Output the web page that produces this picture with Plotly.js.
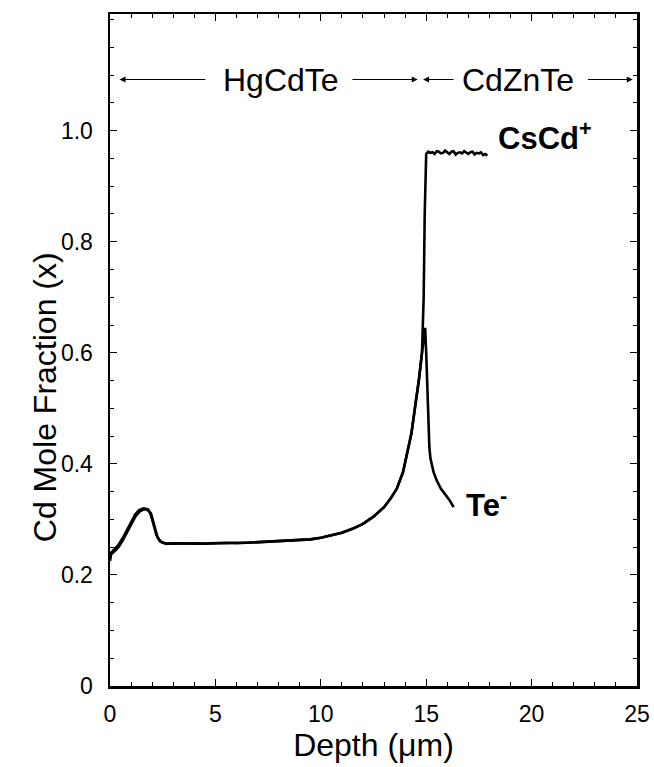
<!DOCTYPE html>
<html>
<head>
<meta charset="utf-8">
<script src="https://cdn.plot.ly/plotly-3.0.1.min.js"></script>
<style>html,body{margin:0;padding:0;background:#fff;}#chart{width:654px;height:767px;}</style>
</head>
<body>
<div id="chart"></div>
<script>
// CsCd+ profile (depth in µm, Cd mole fraction)
const csDepth = [0, 0.05, 0.2, 0.4, 0.6, 0.8, 1.0, 1.2, 1.4, 1.6, 1.75, 1.9, 2.0, 2.1, 2.2, 2.35, 2.5, 2.7, 3.0, 3.5, 4, 4.5, 5, 5.5, 6, 6.5, 7, 7.5, 8, 8.5, 9, 9.5, 10, 10.5, 11, 11.5, 12, 12.5, 13, 13.3, 13.6, 13.9, 14.1, 14.3, 14.5, 14.65, 14.8, 14.88, 14.93, 14.97, 15.0,
  15.1, 15.2, 15.3, 15.4, 15.5, 15.6, 15.7, 15.8, 15.9, 16.0, 16.1, 16.2, 16.3, 16.4, 16.5, 16.6, 16.7, 16.8, 16.9, 17.0, 17.1, 17.2, 17.3, 17.4, 17.5, 17.6, 17.7, 17.8, 17.9];
const csValue = [0.225, 0.237, 0.242, 0.250, 0.262, 0.277, 0.292, 0.305, 0.314, 0.318, 0.318, 0.312, 0.300, 0.285, 0.272, 0.262, 0.258, 0.256, 0.257, 0.256, 0.257, 0.256, 0.257, 0.257, 0.258, 0.258, 0.259, 0.259, 0.260, 0.261, 0.262, 0.264, 0.267, 0.271, 0.276, 0.283, 0.292, 0.305, 0.322, 0.337, 0.355, 0.385, 0.420, 0.455, 0.510, 0.550, 0.600, 0.700, 0.850, 0.930, 0.958,
  0.962, 0.960, 0.961, 0.958, 0.963, 0.962, 0.959, 0.960, 0.964, 0.961, 0.958, 0.962, 0.963, 0.957, 0.960, 0.961, 0.959, 0.963, 0.960, 0.958, 0.961, 0.962, 0.957, 0.960, 0.959, 0.961, 0.956, 0.958, 0.955];

// Te- profile
const teDepth = [0, 0.05, 0.2, 0.4, 0.6, 0.8, 1.0, 1.2, 1.4, 1.6, 1.8, 1.95, 2.05, 2.15, 2.25, 2.4, 2.6, 3.0, 3.5, 4, 4.5, 5, 5.5, 6, 6.5, 7, 7.5, 8, 8.5, 9, 9.5, 10, 10.5, 11, 11.5, 12, 12.5, 13, 13.3, 13.6, 13.9, 14.1, 14.3, 14.5, 14.65, 14.8, 14.9, 14.95, 15.0, 15.08, 15.15, 15.2, 15.35, 15.5, 15.7, 15.9, 16.1, 16.3];
const teValue = [0.230, 0.240, 0.246, 0.254, 0.266, 0.281, 0.296, 0.309, 0.317, 0.320, 0.318, 0.310, 0.296, 0.280, 0.268, 0.260, 0.257, 0.256, 0.257, 0.256, 0.257, 0.257, 0.258, 0.257, 0.258, 0.259, 0.259, 0.260, 0.261, 0.262, 0.264, 0.267, 0.271, 0.276, 0.283, 0.292, 0.305, 0.322, 0.337, 0.355, 0.385, 0.420, 0.455, 0.510, 0.550, 0.600, 0.630, 0.645, 0.600, 0.500, 0.430, 0.410, 0.385, 0.370, 0.355, 0.345, 0.335, 0.322];

const xTicks = [0, 5, 10, 15, 20, 25];
const yTickVals = [0, 0.2, 0.4, 0.6, 0.8, 1.0];
const yTickText = ['0', '0.2', '0.4', '0.6', '0.8', '1.0'];

const lineStyle = {color: '#000', width: 2.6};
const traces = [
  {x: csDepth, y: csValue, mode: 'lines', line: lineStyle, name: 'CsCd+', hoverinfo: 'skip'},
  {x: teDepth, y: teValue, mode: 'lines', line: lineStyle, name: 'Te-', hoverinfo: 'skip'}
];

const font = 'Liberation Sans, Arial, Helvetica, sans-serif';
const arrowY = 1.092;
function arrow(x0, x1) {
  return {x: x1, y: arrowY, ax: x0, ay: arrowY, xref: 'x', yref: 'y', axref: 'x', ayref: 'y',
    text: '', showarrow: true, arrowhead: 2, arrowsize: 1.2, arrowwidth: 1, arrowcolor: '#000'};
}

const layout = {
  width: 654, height: 767,
  margin: {l: 110, r: 17, t: 14, b: 81},
  paper_bgcolor: '#fff', plot_bgcolor: '#fff',
  showlegend: false,
  font: {family: font, color: '#000'},
  xaxis: {
    range: [0, 25], tickvals: xTicks, ticks: 'inside', ticklen: 7, tickwidth: 1, tickcolor: '#000',
    minor: {dtick: 1, ticks: 'inside', ticklen: 4, tickcolor: '#000'},
    showline: true, linewidth: 2.5, linecolor: '#000', mirror: 'allticks',
    showgrid: false, zeroline: false,
    tickfont: {size: 23, family: font}, ticklabelstandoff: 6,
    title: {text: 'Depth (\u03bcm)', font: {size: 32, family: font}, standoff: 4}
  },
  yaxis: {
    range: [0, 1.21], tickvals: yTickVals, ticktext: yTickText, ticks: 'inside', ticklen: 7, tickwidth: 1, tickcolor: '#000',
    minor: {dtick: 0.05, ticks: 'inside', ticklen: 4, tickcolor: '#000'},
    showline: true, linewidth: 2.5, linecolor: '#000', mirror: 'allticks',
    showgrid: false, zeroline: false,
    tickfont: {size: 23, family: font}, ticklabelstandoff: 10
  },
  annotations: [
    {x: -0.161, y: 0.43, xref: 'paper', yref: 'paper', text: 'Cd Mole Fraction (x)', textangle: -90,
      showarrow: false, font: {size: 32, family: font}},
    arrow(4.6, 0.45),
    {x: 8.13, y: arrowY, xref: 'x', yref: 'y', text: 'HgCdTe', showarrow: false, font: {size: 32, family: font}},
    arrow(11.43, 14.6),
    arrow(16.37, 14.85),
    {x: 19.37, y: arrowY, xref: 'x', yref: 'y', text: 'CdZnTe', showarrow: false, font: {size: 32, family: font}},
    arrow(22.6, 24.8),
    {x: 18.3, y: 0.99, xref: 'x', yref: 'y', xanchor: 'left', text: '<b>CsCd<sup>+</sup></b>', showarrow: false, font: {size: 31, family: font}},
    {x: 16.8, y: 0.33, xref: 'x', yref: 'y', xanchor: 'left', text: '<b>Te<sup>-</sup></b>', showarrow: false, font: {size: 31, family: font}}
  ]
};

Plotly.newPlot('chart', traces, layout, {staticPlot: true, displayModeBar: false});
</script>
</body>
</html>
